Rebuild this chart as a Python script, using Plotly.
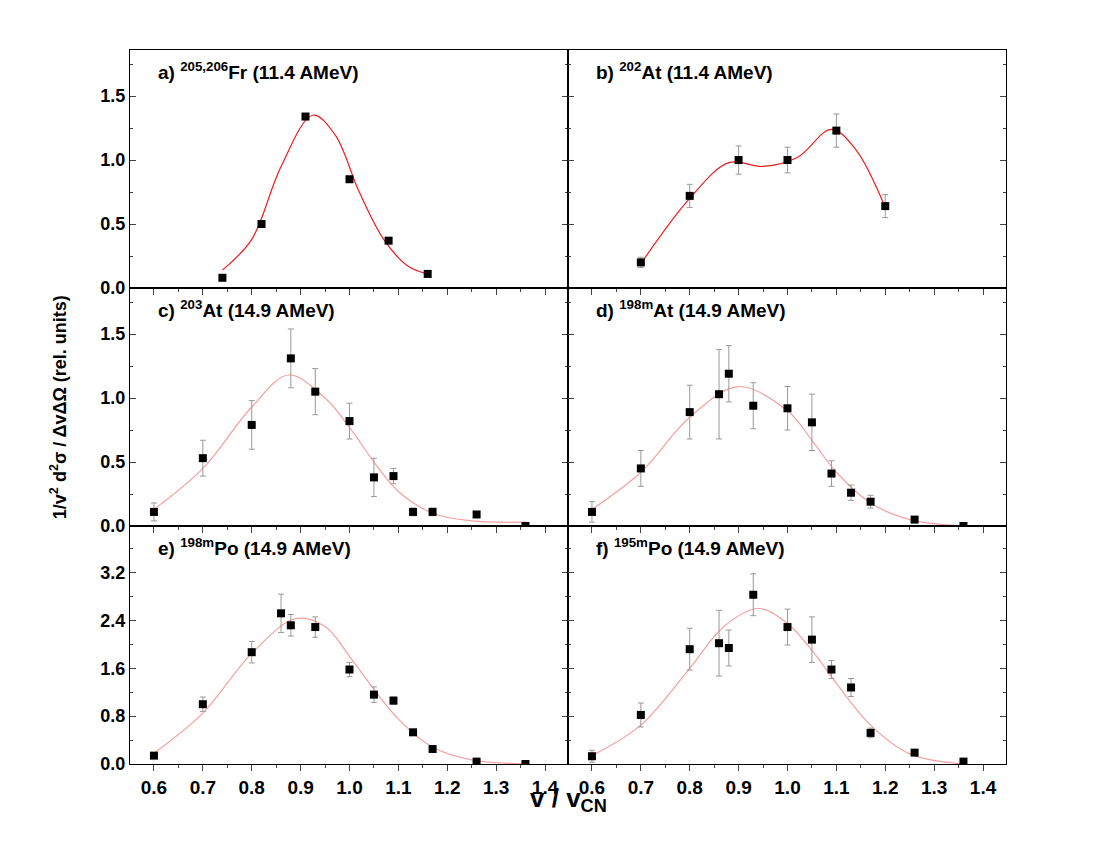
import plotly.graph_objects as go

# panel data: (x, y, err, curve_x, curve_y, title, row, col)
xa = [0.74, 0.82, 0.91, 1.00, 1.08, 1.16]
ya = [0.08, 0.50, 1.34, 0.85, 0.37, 0.11]
ea = [0, 0, 0, 0, 0, 0]
cxa = [0.74, 0.80, 0.86, 0.925, 0.97, 1.02, 1.07, 1.12, 1.16]
cya = [0.14, 0.38, 0.95, 1.35, 1.20, 0.75, 0.38, 0.17, 0.11]

xb = [0.70, 0.80, 0.90, 1.00, 1.10, 1.20]
yb = [0.20, 0.72, 1.00, 1.00, 1.23, 0.64]
eb = [0.04, 0.09, 0.11, 0.10, 0.13, 0.09]
cxb = [0.70, 0.80, 0.88, 0.95, 1.02, 1.09, 1.14, 1.20]
cyb = [0.19, 0.70, 0.98, 0.95, 1.02, 1.24, 1.08, 0.63]

xs = [0.60, 0.70, 0.80, 0.86, 0.88, 0.93, 1.00, 1.05, 1.09, 1.13, 1.17, 1.26, 1.36]
xc = [0.60, 0.70, 0.80, 0.88, 0.93, 1.00, 1.05, 1.09, 1.13, 1.17, 1.26, 1.36]
yc = [0.11, 0.53, 0.79, 1.31, 1.05, 0.82, 0.38, 0.39, 0.11, 0.11, 0.09, 0.0]
ec = [0.07, 0.14, 0.19, 0.23, 0.18, 0.14, 0.15, 0.06, 0.03, 0.03, 0.02, 0.01]
cxc = [0.60, 0.70, 0.80, 0.875, 0.95, 1.00, 1.05, 1.10, 1.17, 1.25, 1.36]
cyc = [0.13, 0.45, 0.93, 1.18, 1.00, 0.77, 0.50, 0.27, 0.10, 0.04, 0.03]

yd = [0.11, 0.45, 0.89, 1.03, 1.19, 0.94, 0.92, 0.81, 0.41, 0.26, 0.19, 0.05, 0.0]
ed = [0.08, 0.14, 0.21, 0.35, 0.22, 0.18, 0.17, 0.22, 0.10, 0.06, 0.05, 0.02, 0.01]
cxd = [0.60, 0.70, 0.80, 0.90, 1.00, 1.05, 1.10, 1.17, 1.25, 1.36]
cyd = [0.13, 0.42, 0.85, 1.09, 0.90, 0.67, 0.42, 0.18, 0.05, 0.0]

ye = [0.14, 1.00, 1.87, 2.52, 2.32, 2.29, 1.58, 1.16, 1.06, 0.53, 0.25, 0.04, 0.0]
ee = [0.04, 0.12, 0.18, 0.32, 0.18, 0.17, 0.12, 0.13, 0.06, 0.04, 0.03, 0.01, 0.01]
cxe = [0.60, 0.70, 0.80, 0.89, 0.95, 1.00, 1.05, 1.10, 1.17, 1.25, 1.36]
cye = [0.18, 0.85, 1.85, 2.43, 2.30, 1.80, 1.25, 0.75, 0.28, 0.07, 0.0]

yf = [0.13, 0.82, 1.92, 2.02, 1.94, 2.83, 2.29, 2.08, 1.58, 1.28, 0.52, 0.19, 0.04]
ef = [0.10, 0.20, 0.35, 0.55, 0.30, 0.35, 0.30, 0.38, 0.15, 0.15, 0.08, 0.03, 0.02]
cxf = [0.60, 0.70, 0.80, 0.87, 0.94, 1.00, 1.05, 1.10, 1.17, 1.25, 1.36]
cyf = [0.14, 0.65, 1.60, 2.30, 2.60, 2.35, 1.90, 1.35, 0.65, 0.17, 0.0]

panels = [
    (xa, ya, ea, cxa, cya, "a) <sup>205,206</sup>Fr (11.4 AMeV)", "#ee1c1c"),
    (xb, yb, eb, cxb, cyb, "b) <sup>202</sup>At (11.4 AMeV)", "#ee1c1c"),
    (xc, yc, ec, cxc, cyc, "c) <sup>203</sup>At (14.9 AMeV)", "#f4a0a0"),
    (xs, yd, ed, cxd, cyd, "d) <sup>198m</sup>At (14.9 AMeV)", "#f4a0a0"),
    (xs, ye, ee, cxe, cye, "e) <sup>198m</sup>Po (14.9 AMeV)", "#f4a0a0"),
    (xs, yf, ef, cxf, cyf, "f) <sup>195m</sup>Po (14.9 AMeV)", "#f4a0a0"),
]

fig = go.Figure()
font = "Liberation Sans"
for i, (x, y, e, cx, cy, title, col) in enumerate(panels):
    n = i + 1
    ax = "" if n == 1 else str(n)
    fig.add_trace(go.Scatter(x=cx, y=cy, mode="lines", line=dict(color=col, width=1.2, shape="spline"),
                             xaxis="x" + ax, yaxis="y" + ax, showlegend=False))
    fig.add_trace(go.Scatter(x=x, y=y, mode="markers",
                             marker=dict(symbol="square", size=8, color="black"),
                             error_y=dict(type="data", array=e, color="#999999", thickness=1, width=3,
                                          visible=any(v > 0 for v in e)),
                             xaxis="x" + ax, yaxis="y" + ax, showlegend=False))
    row = i // 2
    c = i % 2
    ydom = [1 - (row + 1) / 3, 1 - row / 3]
    xdom = [c * 0.5, c * 0.5 + 0.5]
    bottom = row == 2
    fig.layout["xaxis" + ax] = dict(
        domain=xdom, range=[0.551, 1.447], anchor="y" + ax, dtick=0.1, tick0=0.6, automargin=False,
        showticklabels=bottom, ticks="outside", ticklen=6, tickwidth=1.2,
        minor=dict(ticks="outside", ticklen=3, dtick=0.05),
        showline=True, linecolor="black", linewidth=1.2, mirror=True, showgrid=False, zeroline=False,
        tickfont=dict(family=font, size=19, color="black", weight="bold"), tickformat=".1f")
    if row < 2:
        yr, dt = [0, 1.86], 0.5
    else:
        yr, dt = [0, 3.98], 0.8
    fig.layout["yaxis" + ax] = dict(
        domain=ydom, range=yr, anchor="x" + ax, dtick=dt, tick0=0, automargin=False,
        showticklabels=(c == 0), ticks="inside", ticklen=6, tickwidth=1.2,
        minor=dict(ticks="inside", ticklen=3, dtick=dt / 2),
        showline=True, linecolor="black", linewidth=1.2, mirror="ticks", showgrid=False, zeroline=False,
        tickfont=dict(family=font, size=18, color="black", weight="bold"), tickformat=".1f")
    fig.add_annotation(text="<b>" + title + "</b>", xref="x" + ax + " domain", yref="y" + ax + " domain",
                       x=0.06, y=0.97, xanchor="left", yanchor="top", showarrow=False,
                       font=dict(family=font, size=19, color="black"))

fig.add_annotation(text="<b>1/v<sup>2</sup> d<sup>2</sup>σ / ΔvΔΩ (rel. units)</b>", xref="paper", yref="paper",
                   x=-0.082, y=0.5, xanchor="center", yanchor="middle", textangle=-90, showarrow=False,
                   font=dict(family=font, size=18, color="black"))
fig.add_annotation(text="<b>v / v<sub>CN</sub></b>", xref="paper", yref="paper",
                   x=0.5, y=-0.05, yanchor="middle", showarrow=False,
                   font=dict(family=font, size=26, color="black"))

fig.update_layout(width=1100, height=850, margin=dict(l=122, r=102, t=42, b=94),
                  plot_bgcolor="white", paper_bgcolor="white")
fig.write_html("out.html")
